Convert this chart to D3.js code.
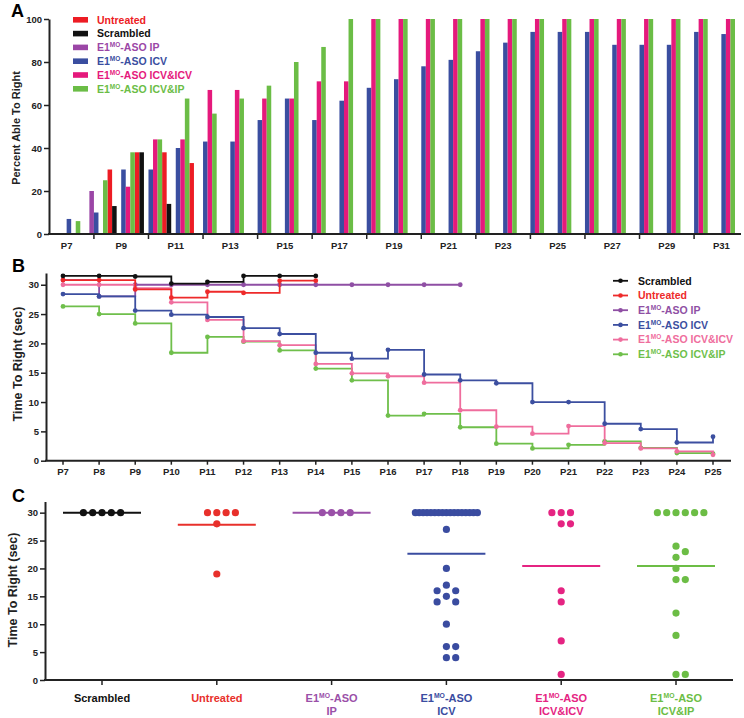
<!DOCTYPE html>
<html><head><meta charset="utf-8">
<script src="https://cdn.jsdelivr.net/npm/d3@7"></script>
<style>
body{margin:0;background:#fff}
svg{display:block}
text{font-family:"Liberation Sans",Arial,Helvetica,sans-serif;font-weight:bold}
</style>
</head><body>
<svg id="c" width="744" height="718"></svg>
<script>
// ---------- DATA ----------
// Panel A: percent able to right, P7..P31
const daysA = d3.range(7, 32).map(d => "P" + d);
const seriesA = ["Untreated", "Scrambled", "E1^MO^-ASO IP", "E1^MO^-ASO ICV", "E1^MO^-ASO ICV&ICV", "E1^MO^-ASO ICV&IP"];
const untreatedA = [0,0,30,38,38,33,0,0,0,0,0,0,0,0,0,0,0,0,0,0,0,0,0,0,0];
const scrambledA = [0,0,13,38,14,0,0,0,0,0,0,0,0,0,0,0,0,0,0,0,0,0,0,0,0];
const ipA        = [0,20,0,0,0,0,0,0,0,0,0,0,0,0,0,0,0,0,0,0,0,0,0,0,0];
const icvA       = [7,10,30,30,40,43,43,53,63,53,62,68,72,78,81,85,89,94,94,94,88,88,88,94,93];
const icvIcvA    = [0,0,22,44,44,67,67,63,63,71,71,100,100,100,100,100,100,100,100,100,100,100,100,100,100];
const icvIpA     = [6,25,38,44,63,56,63,69,80,87,100,100,100,100,100,100,100,100,100,100,100,100,100,100,100];
const ticksA = [0,20,40,60,80,100];

// Panel B: time to right (sec), staircase
const daysB = d3.range(7, 26);
const seriesB = ["Scrambled", "Untreated", "E1^MO^-ASO IP", "E1^MO^-ASO ICV", "E1^MO^-ASO ICV&ICV", "E1^MO^-ASO ICV&IP"];
const scrambledB = [31.5,31.5,31.4,30.2,30.5,31.5,31.5,31.5];
const untreatedB = [30.8,30.8,29.2,27.8,28.8,28.6,30.7,30.7];
const ipB        = [30.8,28.0,30.0,30.0,30.0,30.0,30.0,30.0,30.0,30.0,30.0,30.0];
const icvB       = [28.4,28.0,25.6,24.9,24.5,22.6,21.6,18.4,17.4,18.9,14.7,13.7,13.2,10.0,10.0,6.3,5.4,3.1,4.1];
const icvIcvB    = [30.0,30.0,29.4,27.0,24.0,20.4,19.7,16.5,14.9,14.4,13.3,8.6,5.8,4.6,5.9,3.0,2.1,1.6,1.0];
const icvIpB     = [26.3,25.0,23.4,18.4,21.1,20.3,18.8,15.7,13.7,7.7,8.0,5.7,2.9,2.1,2.7,3.3,2.2,1.3,1.2];
const ticksB = [0,5,10,15,20,25,30];

// Panel C: individual times to right
const catsC = ["Scrambled", "Untreated", "E1^MO^-ASO|IP", "E1^MO^-ASO|ICV", "E1^MO^-ASO|ICV&ICV", "E1^MO^-ASO|ICV&IP"];
const scrambledC = [30,30,30,30,30];
const untreatedC = [30,30,30,30,28,19];
const ipC        = [30,30,30,30];
const icvC       = [30,30,30,30,30,30,30,30,30,30,30,30,30,30,30,30,30,27,20,17,16,16,15,14,14,10,6,6,4,4];
const icvIcvC    = [30,30,30,28,28,16,14,7,1];
const icvIpC     = [30,30,30,30,30,30,24,23,22,20,18,18,12,8,1,1];
const ticksC = [0,5,10,15,20,25,30];

// ---------- STYLE ----------
const colA = ["#ed1c24","#111111","#9b46a6","#3a4ea0","#e5197c","#6bbd46"];
const colB = ["#111111","#ee2a2a","#8f4fa4","#3c4fa0","#ef6d9d","#6fbf4b"];
const colC = ["#111111","#e8302b","#9a50a8","#3a4ca0","#e52482","#6cbd45"];
const axisCol = "#222";

const svg = d3.select("#c");

function richLabel(sel, label) {
  const p = label.split("^");
  if (p.length === 3) {
    sel.append("tspan").text(p[0]);
    sel.append("tspan").attr("dy", -4).attr("font-size", "0.62em").text(p[1]);
    sel.append("tspan").attr("dy", 4).text(p[2]);
  } else sel.text(label);
}
function styleAxis(g) {
  g.select(".domain").attr("stroke", axisCol).attr("stroke-width", 2);
  g.selectAll(".tick line").attr("stroke", axisCol).attr("stroke-width", 1.5);
  g.selectAll(".tick text").attr("fill", "#222").style("font-weight", "bold");
}

// ================= PANEL A =================
{
  const xA = d3.scaleBand().domain(daysA).range([53, 735]).padding(0);
  const xA1 = d3.scaleBand().domain(seriesA).range([0, xA.bandwidth()]).padding(0);
  const yA = d3.scaleLinear().domain([0, 100]).range([234, 19]);
  const dataA = [untreatedA, scrambledA, ipA, icvA, icvIcvA, icvIpA];

  const g = svg.append("g");
  dataA.forEach((arr, si) => {
    g.append("g").selectAll("rect")
      .data(arr.map((v, i) => ({ v, day: daysA[i] })).filter(d => d.v > 0))
      .join("rect")
      .attr("x", d => xA(d.day) + xA1(seriesA[si]))
      .attr("width", xA1.bandwidth())
      .attr("y", d => yA(d.v))
      .attr("height", d => yA(0) - yA(d.v))
      .attr("fill", colA[si]);
  });

  const ya = g.append("g").attr("transform", "translate(49,0)")
    .call(d3.axisLeft(yA).tickValues(ticksA).tickSize(5).tickSizeOuter(0).tickPadding(2));
  ya.selectAll(".tick text").attr("font-size", 9.5);
  styleAxis(ya);

  // x axis
  g.append("line").attr("x1", 48).attr("x2", 741).attr("y1", yA(0)).attr("y2", yA(0))
    .attr("stroke", axisCol).attr("stroke-width", 2);
  const even = daysA.filter((d, i) => i % 2 === 1);
  const odd = daysA.filter((d, i) => i % 2 === 0);
  g.selectAll(".xt").data(even).join("line")
    .attr("x1", d => xA(d) + xA.bandwidth() / 2).attr("x2", d => xA(d) + xA.bandwidth() / 2)
    .attr("y1", yA(0)).attr("y2", yA(0) + 5).attr("stroke", axisCol).attr("stroke-width", 1.5);
  g.selectAll(".xl").data(odd).join("text")
    .attr("x", d => xA(d) + xA.bandwidth() / 2).attr("y", 249)
    .attr("text-anchor", "middle").attr("font-size", 9.5).attr("fill", "#222").text(d => d);

  g.append("text").attr("transform", "translate(20,128) rotate(-90)")
    .attr("text-anchor", "middle").attr("font-size", 11).attr("fill", "#222")
    .text("Percent Able To Right");
  g.append("text").attr("x", 11).attr("y", 17).attr("font-size", 18).attr("fill", "#000").text("A");

  // legend
  seriesA.forEach((s, i) => {
    const y = 19.8 + i * 13.8;
    g.append("rect").attr("x", 73).attr("y", y - 2.8).attr("width", 15).attr("height", 5.6).attr("fill", colA[i]);
    const t = g.append("text").attr("x", 97).attr("y", y).attr("dy", "0.36em")
      .attr("font-size", 10.5).attr("fill", colA[i]);
    richLabel(t, s);
  });
}

// ================= PANEL B =================
{
  const xB = d3.scaleLinear().domain([7, 25]).range([63, 713]);
  const yB = d3.scaleLinear().domain([0, 32]).range([460.7, 273]);
  const dataB = [scrambledB, untreatedB, ipB, icvB, icvIcvB, icvIpB];
  const g = svg.append("g");

  const ya = g.append("g").attr("transform", "translate(46,0)")
    .call(d3.axisLeft(yB).tickValues(ticksB).tickSize(5).tickSizeOuter(0).tickPadding(2));
  ya.selectAll(".tick text").attr("font-size", 9.5);
  styleAxis(ya);

  g.append("line").attr("x1", 45).attr("x2", 731).attr("y1", yB(0)).attr("y2", yB(0))
    .attr("stroke", axisCol).attr("stroke-width", 2);
  g.selectAll(".xt").data(daysB).join("line")
    .attr("x1", d => xB(d)).attr("x2", d => xB(d))
    .attr("y1", yB(0)).attr("y2", yB(0) + 4).attr("stroke", axisCol).attr("stroke-width", 1.5);
  g.selectAll(".xl").data(daysB).join("text")
    .attr("x", d => xB(d)).attr("y", 475).attr("text-anchor", "middle")
    .attr("font-size", 9.5).attr("fill", "#222").text(d => "P" + d);

  const line = d3.line().x(d => xB(d.day)).y(d => yB(d.v)).curve(d3.curveStepAfter);
  const order = [2, 5, 4, 3, 1, 0];
  order.forEach(si => {
    const pts = dataB[si].map((v, i) => ({ v, day: daysB[i] }));
    g.append("path").datum(pts).attr("d", line).attr("fill", "none")
      .attr("stroke", colB[si]).attr("stroke-width", 1.8);
    g.append("g").selectAll("circle").data(pts).join("circle")
      .attr("cx", d => xB(d.day)).attr("cy", d => yB(d.v)).attr("r", 2.4).attr("fill", colB[si]);
  });

  g.append("text").attr("transform", "translate(22,364) rotate(-90)")
    .attr("text-anchor", "middle").attr("font-size", 12.5).attr("fill", "#222")
    .text("Time To Right (sec)");
  g.append("text").attr("x", 12).attr("y", 272).attr("font-size", 18).attr("fill", "#000").text("B");

  seriesB.forEach((s, i) => {
    const y = 280.8 + i * 14.7;
    g.append("line").attr("x1", 613).attr("x2", 628).attr("y1", y).attr("y2", y)
      .attr("stroke", colB[i]).attr("stroke-width", 1.8);
    g.append("circle").attr("cx", 620.5).attr("cy", y).attr("r", 2.3).attr("fill", colB[i]);
    const t = g.append("text").attr("x", 638).attr("y", y).attr("dy", "0.36em")
      .attr("font-size", 10.5).attr("fill", colB[i]);
    richLabel(t, s);
  });
}

// ================= PANEL C =================
{
  const xC = d3.scalePoint().domain(catsC).range([102, 676]);
  const yC = d3.scaleLinear().domain([0, 32]).range([680, 501.5]);
  const dataC = [scrambledC, untreatedC, ipC, icvC, icvIcvC, icvIpC];
  const g = svg.append("g");

  const ya = g.append("g").attr("transform", "translate(45,0)")
    .call(d3.axisLeft(yC).tickValues(ticksC).tickSize(5).tickSizeOuter(0).tickPadding(2));
  ya.selectAll(".tick text").attr("font-size", 9.5);
  styleAxis(ya);

  g.append("line").attr("x1", 44).attr("x2", 733).attr("y1", yC(0)).attr("y2", yC(0))
    .attr("stroke", axisCol).attr("stroke-width", 2);
  g.selectAll(".xt").data(catsC).join("line")
    .attr("x1", d => xC(d)).attr("x2", d => xC(d))
    .attr("y1", yC(0)).attr("y2", yC(0) + 5).attr("stroke", axisCol).attr("stroke-width", 1.5);
  catsC.forEach((c, i) => {
    const lines = c.split("|");
    lines.forEach((ln, li) => {
      const t = g.append("text").attr("x", xC(c)).attr("y", 701.5 + li * 13)
        .attr("text-anchor", "middle").attr("font-size", 11).attr("fill", colC[i]);
      richLabel(t, ln);
    });
  });

  // simple swarm layout
  function swarm(vals) {
    const counts = d3.rollup(vals, v => v.length, d => d);
    const placed = [];
    return vals.map(v => {
      const n = counts.get(v);
      const s = n > 8 ? 62 / (n - 1) : 9.3;
      const y = yC(v);
      for (let k = 0; k < 200; k++) {
        const slot = k === 0 ? 0 : (k % 2 ? (k + 1) / 2 : -k / 2);
        const dx = slot * s;
        const hit = placed.some(p => Math.abs(p.dx - dx) < Math.min(p.s, s) * 0.95 && Math.abs(p.y - y) < 6.5);
        if (!hit) { const o = { v, dx, y, s }; placed.push(o); return o; }
      }
    });
  }

  dataC.forEach((arr, ci) => {
    const cx = xC(catsC[ci]);
    const m = d3.mean(arr);
    g.append("line").attr("x1", cx - 39).attr("x2", cx + 39).attr("y1", yC(m)).attr("y2", yC(m))
      .attr("stroke", colC[ci]).attr("stroke-width", 2);
    g.append("g").selectAll("circle").data(swarm(arr)).join("circle")
      .attr("cx", d => cx + d.dx).attr("cy", d => yC(d.v)).attr("r", 3.6).attr("fill", colC[ci]);
  });

  g.append("text").attr("transform", "translate(17,590) rotate(-90)")
    .attr("text-anchor", "middle").attr("font-size", 12.5).attr("fill", "#222")
    .text("Time To Right (sec)");
  g.append("text").attr("x", 12).attr("y", 502).attr("font-size", 18).attr("fill", "#000").text("C");
}
</script>
</body></html>
